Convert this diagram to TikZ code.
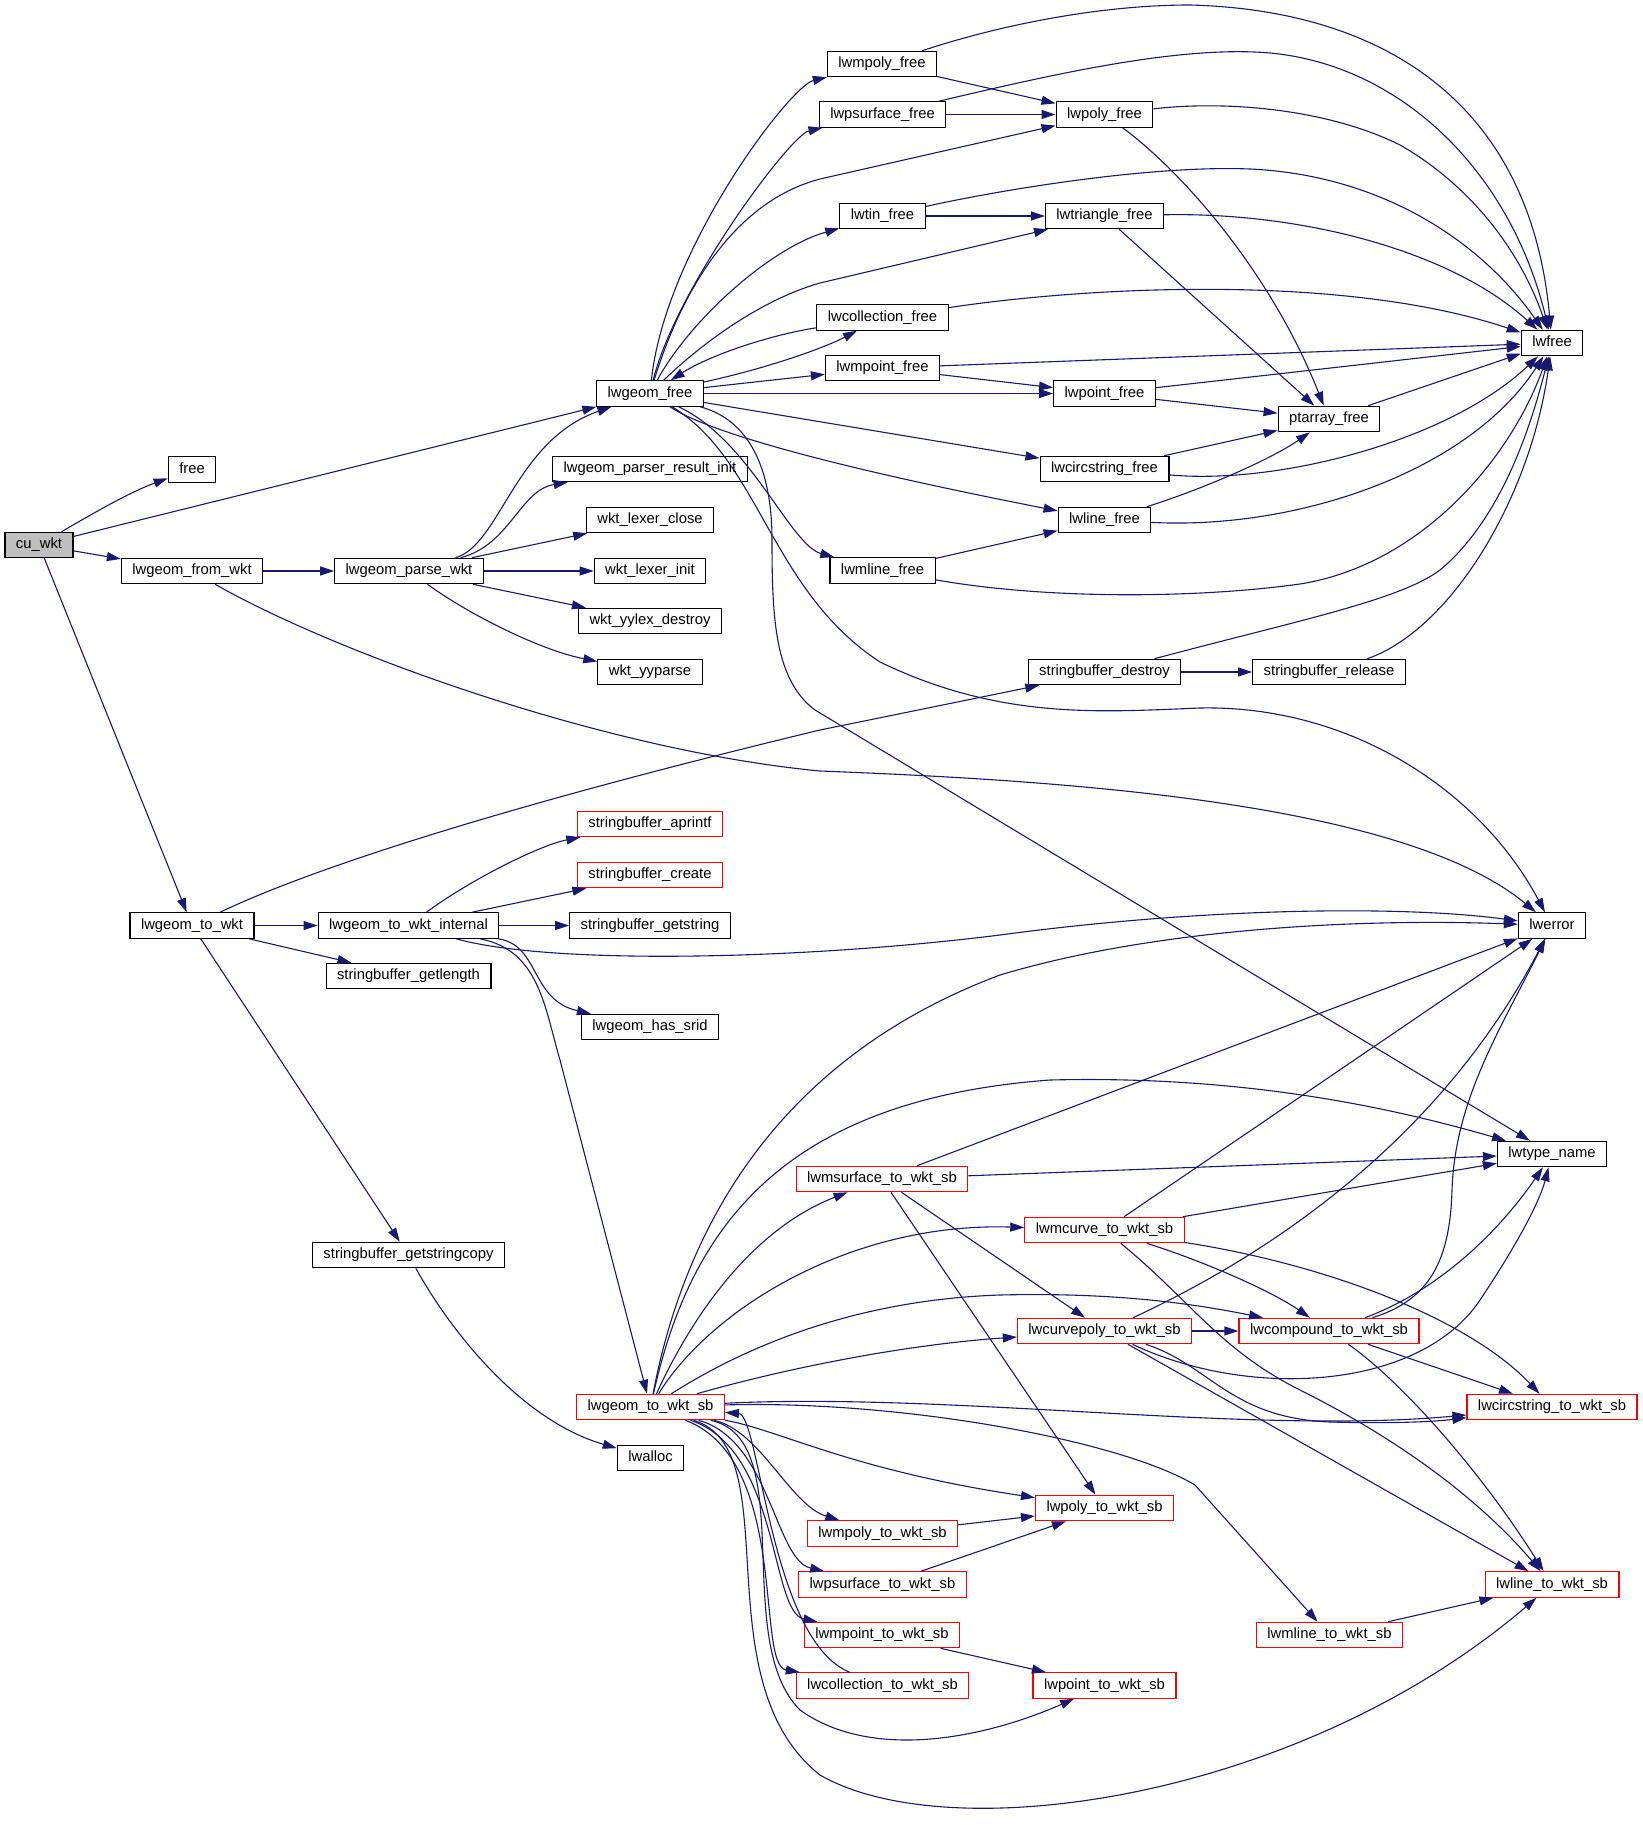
\documentclass[tikz,border=0pt]{standalone}
\usepackage{fontspec}
\setmainfont{Liberation Sans}
\usetikzlibrary{arrows.meta}
\definecolor{edgeblue}{RGB}{25,25,112}
\definecolor{rootgray}{RGB}{191,191,191}
\tikzset{
  fn/.style={draw=black, line width=0.55pt, fill=white, rectangle, minimum height=12.75pt,
    inner xsep=5.5pt, inner ysep=0pt, text height=5.5pt, text depth=1.6pt,
    font=\fontsize{7.4}{9}\selectfont},
  fnred/.style={fn, draw=red},
  fnroot/.style={fn, fill=rootgray},
  callarrow/.style={draw=edgeblue, line width=0.55pt, -{Triangle[length=7pt,width=4.5pt]}},
}
\begin{document}
\begin{tikzpicture}[x=0.5pt, y=-0.5pt]
\path[fill=white, use as bounding box] (0,0) rectangle (1643,1825);
% left part
\node[fnroot] (cuwkt) at (39,545) {cu\_wkt};
\node[fn] (free) at (192,469.5) {free};
\node[fn] (fromwkt) at (192,571) {lwgeom\_from\_wkt};
\node[fn] (towkt) at (192,925.5) {lwgeom\_to\_wkt};
\node[fn] (parsewkt) at (409,571) {lwgeom\_parse\_wkt};
\node[fn] (towktint) at (408.5,925.5) {lwgeom\_to\_wkt\_internal};
\node[fn] (getlength) at (408.5,976) {stringbuffer\_getlength};
\node[fn] (getstringcopy) at (408.5,1255) {stringbuffer\_getstringcopy};
\node[fn] (lwgeomfree) at (650,393.5) {lwgeom\_free};
\node[fn] (parserinit) at (650,469) {lwgeom\_parser\_result\_init};
\node[fn] (lexclose) at (650,520) {wkt\_lexer\_close};
\node[fn] (lexinit) at (650,571) {wkt\_lexer\_init};
\node[fn] (yylexdestroy) at (650,621) {wkt\_yylex\_destroy};
\node[fn] (yyparse) at (650,672) {wkt\_yyparse};
\node[fnred] (aprintf) at (650,824) {stringbuffer\_aprintf};
\node[fnred] (sbcreate) at (650,875) {stringbuffer\_create};
\node[fn] (getstring) at (650,925.5) {stringbuffer\_getstring};
\node[fn] (hassrid) at (650,1027) {lwgeom\_has\_srid};
\node[fnred] (towktsb) at (650.5,1407) {lwgeom\_to\_wkt\_sb};
\node[fn] (lwalloc) at (650.5,1458) {lwalloc};
% free functions
\node[fn] (lwmpolyfree) at (882,64) {lwmpoly\_free};
\node[fn] (lwpsurfacefree) at (882.5,114.5) {lwpsurface\_free};
\node[fn] (lwpolyfree) at (1104.5,114.5) {lwpoly\_free};
\node[fn] (lwtinfree) at (882.5,216) {lwtin\_free};
\node[fn] (lwtrianglefree) at (1104.5,216) {lwtriangle\_free};
\node[fn] (lwcollectionfree) at (882.5,317.5) {lwcollection\_free};
\node[fn] (lwfree) at (1552,343) {lwfree};
\node[fn] (lwmpointfree) at (882.5,368) {lwmpoint\_free};
\node[fn] (lwpointfree) at (1104.5,393.5) {lwpoint\_free};
\node[fn] (ptarrayfree) at (1329,419) {ptarray\_free};
\node[fn] (lwcircstringfree) at (1104.5,469) {lwcircstring\_free};
\node[fn] (lwlinefree) at (1104.5,520) {lwline\_free};
\node[fn] (lwmlinefree) at (882.5,570.5) {lwmline\_free};
\node[fn] (sbdestroy) at (1104.5,672) {stringbuffer\_destroy};
\node[fn] (sbrelease) at (1329,672) {stringbuffer\_release};
\node[fn] (lwerror) at (1552,925.5) {lwerror};
\node[fn] (lwtypename) at (1552,1154) {lwtype\_name};
% to_wkt_sb functions
\node[fnred] (lwmsurfacesb) at (882,1179) {lwmsurface\_to\_wkt\_sb};
\node[fnred] (lwmcurvesb) at (1104.5,1230) {lwmcurve\_to\_wkt\_sb};
\node[fnred] (lwcurvepolysb) at (1104.5,1331) {lwcurvepoly\_to\_wkt\_sb};
\node[fnred] (lwcompoundsb) at (1329,1331) {lwcompound\_to\_wkt\_sb};
\node[fnred] (lwcircstringsb) at (1552,1407) {lwcircstring\_to\_wkt\_sb};
\node[fnred] (lwpolysb) at (1104.5,1508) {lwpoly\_to\_wkt\_sb};
\node[fnred] (lwmpolysb) at (882.5,1533.5) {lwmpoly\_to\_wkt\_sb};
\node[fnred] (lwpsurfacesb) at (882.5,1584.5) {lwpsurface\_to\_wkt\_sb};
\node[fnred] (lwlinesb) at (1552,1584.5) {lwline\_to\_wkt\_sb};
\node[fnred] (lwmpointsb) at (882,1635) {lwmpoint\_to\_wkt\_sb};
\node[fnred] (lwmlinesb) at (1329.5,1635) {lwmline\_to\_wkt\_sb};
\node[fnred] (lwcollectionsb) at (882.5,1685.5) {lwcollection\_to\_wkt\_sb};
\node[fnred] (lwpointsb) at (1104.5,1685.5) {lwpoint\_to\_wkt\_sb};
% cu_wkt
\draw[callarrow] (cuwkt) .. controls (90,515) and (130,492) .. (free);
\draw[callarrow] (cuwkt) -- (lwgeomfree);
\draw[callarrow] (cuwkt) -- (fromwkt);
\draw[callarrow] (cuwkt) -- (towkt);
% lwgeom_from_wkt
\draw[callarrow] (fromwkt) -- (parsewkt);
\draw[callarrow] (fromwkt) .. controls (330,650) and (600,750) .. (820,771) .. controls (1050,780) and (1400,800) .. (lwerror);
% lwgeom_parse_wkt
\draw[callarrow] (parsewkt) .. controls (500,545) and (515,440) .. (lwgeomfree);
\draw[callarrow] (parsewkt) .. controls (510,545) and (520,490) .. (parserinit);
\draw[callarrow] (parsewkt) -- (lexclose);
\draw[callarrow] (parsewkt) -- (lexinit);
\draw[callarrow] (parsewkt) -- (yylexdestroy);
\draw[callarrow] (parsewkt) .. controls (470,615) and (540,650) .. (yyparse);
% lwgeom_free
\draw[callarrow] (lwgeomfree) .. controls (665,250) and (790,86) .. (lwmpolyfree);
\draw[callarrow] (lwgeomfree) .. controls (675,290) and (790,135) .. (lwpsurfacefree);
\draw[callarrow] (lwgeomfree) .. controls (685,280) and (740,200) .. (820,179) -- (lwpolyfree);
\draw[callarrow] (lwgeomfree) .. controls (690,320) and (770,248) .. (lwtinfree);
\draw[callarrow] (lwgeomfree) .. controls (700,345) and (760,300) .. (820,283) -- (lwtrianglefree);
\draw[callarrow] (lwgeomfree) .. controls (760,370) and (820,350) .. (lwcollectionfree);
\draw[callarrow] (lwgeomfree) -- (lwmpointfree);
\draw[callarrow] (lwgeomfree) -- (lwpointfree);
\draw[callarrow] (lwgeomfree) -- (lwcircstringfree);
\draw[callarrow] (lwgeomfree) .. controls (720,440) and (900,480) .. (lwlinefree);
\draw[callarrow] (lwgeomfree) .. controls (750,440) and (790,545) .. (lwmlinefree);
\draw[callarrow] (lwgeomfree) .. controls (760,460) and (770,590) .. (880,662) .. controls (1000,720) and (1100,712) .. (1200,708) .. controls (1350,705) and (1480,790) .. (lwerror);
\draw[callarrow] (lwgeomfree) .. controls (750,420) and (772,470) .. (772,540) .. controls (772,620) and (775,680) .. (815,710) -- (lwtypename);
\draw[callarrow] (lwcollectionfree) .. controls (770,335) and (710,355) .. (lwgeomfree);
% *_free to lwfree
\draw[callarrow] (lwmpolyfree) -- (lwpolyfree);
\draw[callarrow] (lwmpolyfree) .. controls (1000,25) and (1100,5) .. (1190,5) .. controls (1380,10) and (1530,100) .. (lwfree);
\draw[callarrow] (lwpsurfacefree) -- (lwpolyfree);
\draw[callarrow] (lwpsurfacefree) .. controls (1050,75) and (1180,45) .. (1270,53) .. controls (1400,65) and (1510,170) .. (lwfree);
\draw[callarrow] (lwpolyfree) .. controls (1180,170) and (1270,270) .. (ptarrayfree);
\draw[callarrow] (lwpolyfree) .. controls (1230,100) and (1330,110) .. (1400,145) .. controls (1470,185) and (1520,250) .. (lwfree);
\draw[callarrow] (lwtinfree) -- (lwtrianglefree);
\draw[callarrow] (lwtinfree) .. controls (1000,190) and (1150,165) .. (1250,169) .. controls (1380,175) and (1480,240) .. (lwfree);
\draw[callarrow] (lwtrianglefree) -- (ptarrayfree);
\draw[callarrow] (lwtrianglefree) .. controls (1300,212) and (1450,250) .. (lwfree);
\draw[callarrow] (lwcollectionfree) .. controls (1100,285) and (1350,275) .. (lwfree);
\draw[callarrow] (lwmpointfree) -- (lwfree);
\draw[callarrow] (lwmpointfree) -- (lwpointfree);
\draw[callarrow] (lwpointfree) -- (lwfree);
\draw[callarrow] (lwpointfree) -- (ptarrayfree);
\draw[callarrow] (ptarrayfree) -- (lwfree);
\draw[callarrow] (lwcircstringfree) -- (ptarrayfree);
\draw[callarrow] (lwcircstringfree) .. controls (1280,485) and (1450,440) .. (lwfree);
\draw[callarrow] (lwlinefree) .. controls (1200,490) and (1270,460) .. (ptarrayfree);
\draw[callarrow] (lwlinefree) .. controls (1300,530) and (1470,470) .. (lwfree);
\draw[callarrow] (lwmlinefree) -- (lwlinefree);
\draw[callarrow] (lwmlinefree) .. controls (1050,600) and (1200,598) .. (1300,584) .. controls (1420,565) and (1510,460) .. (lwfree);
\draw[callarrow] (sbdestroy) -- (sbrelease);
\draw[callarrow] (sbdestroy) .. controls (1300,620) and (1400,600) .. (1440,570) .. controls (1500,520) and (1530,430) .. (lwfree);
\draw[callarrow] (sbrelease) .. controls (1450,630) and (1530,500) .. (lwfree);
% lwgeom_to_wkt
\draw[callarrow] (towkt) .. controls (330,860) and (550,795) .. (820,730) -- (sbdestroy);
\draw[callarrow] (towkt) -- (towktint);
\draw[callarrow] (towkt) -- (getlength);
\draw[callarrow] (towkt) -- (getstringcopy);
\draw[callarrow] (towktint) .. controls (470,880) and (540,845) .. (aprintf);
\draw[callarrow] (towktint) -- (sbcreate);
\draw[callarrow] (towktint) -- (getstring);
\draw[callarrow] (towktint) .. controls (540,945) and (530,1000) .. (hassrid);
\draw[callarrow] (towktint) .. controls (550,965) and (800,960) .. (1000,935) .. controls (1200,908) and (1400,905) .. (lwerror);
\draw[callarrow] (towktint) .. controls (540,950) and (545,1010) .. (560,1060) -- (towktsb);
\draw[callarrow] (getstringcopy) .. controls (450,1330) and (520,1420) .. (lwalloc);
% lwgeom_to_wkt_sb
\draw[callarrow] (towktsb) .. controls (690,1200) and (800,1050) .. (1000,975) .. controls (1150,930) and (1350,918) .. (lwerror);
\draw[callarrow] (towktsb) .. controls (690,1230) and (780,1100) .. (1050,1080) .. controls (1250,1075) and (1400,1110) .. (lwtypename);
\draw[callarrow] (towktsb) .. controls (690,1320) and (750,1230) .. (lwmsurfacesb);
\draw[callarrow] (towktsb) .. controls (710,1310) and (850,1222) .. (lwmcurvesb);
\draw[callarrow] (towktsb) .. controls (740,1350) and (850,1300) .. (1000,1295) .. controls (1120,1292) and (1200,1305) .. (lwcompoundsb);
\draw[callarrow] (towktsb) .. controls (780,1370) and (900,1345) .. (lwcurvepolysb);
\draw[callarrow] (towktsb) .. controls (950,1392) and (1250,1435) .. (lwcircstringsb);
\draw[callarrow] (towktsb) .. controls (900,1400) and (1120,1440) .. (1195,1485) -- (lwmlinesb);
\draw[callarrow] (towktsb) .. controls (780,1430) and (850,1470) .. (lwpolysb);
\draw[callarrow] (towktsb) .. controls (760,1430) and (790,1505) .. (lwmpolysb);
\draw[callarrow] (towktsb) .. controls (770,1440) and (775,1560) .. (lwpsurfacesb);
\draw[callarrow] (towktsb) .. controls (780,1450) and (770,1612) .. (lwmpointsb);
\draw[callarrow] (towktsb) .. controls (790,1460) and (755,1665) .. (lwcollectionsb);
\draw[callarrow] (lwcollectionsb) .. controls (770,1640) and (760,1415) .. (towktsb);
\draw[callarrow] (towktsb) .. controls (800,1440) and (730,1640) .. (800,1710) .. controls (870,1760) and (980,1740) .. (lwpointsb);
\draw[callarrow] (towktsb) .. controls (790,1450) and (700,1680) .. (820,1775) .. controls (950,1850) and (1300,1800) .. (lwlinesb);
% lwmsurface / lwmcurve
\draw[callarrow] (lwmsurfacesb) -- (lwerror);
\draw[callarrow] (lwmsurfacesb) -- (lwtypename);
\draw[callarrow] (lwmsurfacesb) -- (lwcurvepolysb);
\draw[callarrow] (lwmsurfacesb) -- (lwpolysb);
\draw[callarrow] (lwmcurvesb) -- (lwerror);
\draw[callarrow] (lwmcurvesb) -- (lwtypename);
\draw[callarrow] (lwmcurvesb) .. controls (1200,1260) and (1270,1290) .. (lwcompoundsb);
\draw[callarrow] (lwmcurvesb) .. controls (1330,1265) and (1470,1320) .. (lwcircstringsb);
\draw[callarrow] (lwmcurvesb) .. controls (1190,1300) and (1220,1350) .. (1300,1390) .. controls (1400,1440) and (1480,1500) .. (lwlinesb);
% lwcurvepoly / lwcompound
\draw[callarrow] (lwcurvepolysb) .. controls (1300,1240) and (1450,1120) .. (lwerror);
\draw[callarrow] (lwcurvepolysb) -- (lwcompoundsb);
\draw[callarrow] (lwcurvepolysb) .. controls (1210,1365) and (1230,1418) .. (1330,1422) .. controls (1400,1424) and (1440,1421) .. (lwcircstringsb);
\draw[callarrow] (lwcurvepolysb) .. controls (1250,1400) and (1420,1390) .. (1480,1300) .. controls (1520,1240) and (1540,1200) .. (lwtypename);
\draw[callarrow] (lwcurvepolysb) -- (lwlinesb);
\draw[callarrow] (lwcompoundsb) .. controls (1430,1300) and (1450,1260) .. (1452,1190) .. controls (1455,1100) and (1500,1030) .. (lwerror);
\draw[callarrow] (lwcompoundsb) .. controls (1440,1290) and (1500,1230) .. (lwtypename);
\draw[callarrow] (lwcompoundsb) -- (lwcircstringsb);
\draw[callarrow] (lwcompoundsb) .. controls (1400,1380) and (1480,1470) .. (lwlinesb);
% leaves
\draw[callarrow] (lwmpolysb) -- (lwpolysb);
\draw[callarrow] (lwpsurfacesb) -- (lwpolysb);
\draw[callarrow] (lwmpointsb) -- (lwpointsb);
\draw[callarrow] (lwmlinesb) -- (lwlinesb);
\end{tikzpicture}
\end{document}
